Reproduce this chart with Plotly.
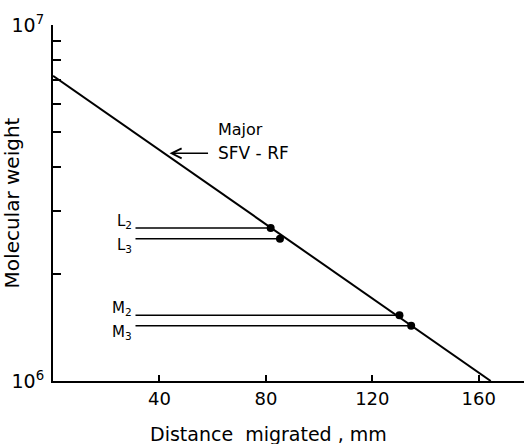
import math
import plotly.graph_objects as go

# Calibration line: log(molecular weight) vs distance migrated
fit_dist = [0.0, 164.5]
fit_mw = [7.2e6, 1.0e6]

# Marked bands
band_names = ["L<sub>2</sub>", "L<sub>3</sub>", "M<sub>2</sub>", "M<sub>3</sub>"]
band_dist = [81.8, 85.3, 130.2, 134.6]
band_mw = [2.69e6, 2.51e6, 1.53e6, 1.43e6]
guide_start = 31.0

# Major SFV-RF position on the line
major_dist = 43.8
major_mw = 4.36e6

x_ticks = [40, 80, 120, 160]
y_ticks = [1e6, 2e6, 3e6, 4e6, 5e6, 6e6, 7e6, 8e6, 9e6, 1e7]
y_ticktext = ["10<sup>6</sup>", "", "", "", "", "", "", "", "", "10<sup>7</sup>"]

FONT = "DejaVu Sans"
INK = "black"

fig = go.Figure()

# guide lines from labels to each band; upper label of each pair sits above
# its line, lower label below, so the pair stays stacked
for i, (name, d, m) in enumerate(zip(band_names, band_dist, band_mw)):
    fig.add_trace(go.Scatter(x=[guide_start, d], y=[m, m], mode="lines",
                             line=dict(color=INK, width=1.5), showlegend=False,
                             hoverinfo="skip"))
    upper = i % 2 == 0
    fig.add_annotation(x=guide_start, y=math.log10(m), text=name, showarrow=False,
                       xanchor="right", yanchor="bottom" if upper else "top",
                       xshift=-1, yshift=-5 if upper else 5,
                       font=dict(family=FONT, size=15, color=INK))

fig.add_trace(go.Scatter(x=fit_dist, y=fit_mw, mode="lines",
                         line=dict(color=INK, width=2), showlegend=False))
fig.add_trace(go.Scatter(x=band_dist, y=band_mw, mode="markers",
                         marker=dict(color=INK, size=8), showlegend=False))

# arrow pointing at the major species
major_y = math.log10(major_mw)
fig.add_annotation(x=major_dist, y=major_y, ax=40, ay=0, text="",
                   showarrow=True, arrowhead=5, arrowsize=1.3, arrowwidth=1.5,
                   arrowcolor=INK)
fig.add_annotation(x=major_dist, y=major_y, text="SFV - RF", showarrow=False,
                   xanchor="left", yanchor="middle", xshift=46,
                   font=dict(family=FONT, size=17, color=INK))
fig.add_annotation(x=major_dist, y=major_y, text="Major", showarrow=False,
                   xanchor="left", yanchor="middle", xshift=46, yshift=24,
                   font=dict(family=FONT, size=16, color=INK))

# x-axis title
fig.add_annotation(xref="paper", yref="paper", x=0.4565, y=-0.149,
                   text="Distance  migrated , mm", showarrow=False,
                   xanchor="center", yanchor="middle",
                   font=dict(family=FONT, size=19, color=INK))

fig.update_layout(
    width=524, height=444,
    margin=dict(l=53, r=0, t=25, b=63),
    paper_bgcolor="white", plot_bgcolor="white",
    font=dict(family=FONT, size=18, color=INK),
    showlegend=False,
    xaxis=dict(range=[0, 177], tickvals=x_ticks, ticks="inside", ticklen=6,
               tickwidth=1.5, tickcolor=INK, showline=True, linewidth=2,
               linecolor=INK, showgrid=False, zeroline=False, automargin=False,
               tickfont=dict(family=FONT, size=18)),
    yaxis=dict(type="log", range=[6, 7], tickvals=y_ticks, ticktext=y_ticktext,
               ticks="inside", ticklen=8, tickwidth=1.5, tickcolor=INK,
               showline=True, linewidth=2, linecolor=INK, showgrid=False,
               zeroline=False, ticklabelstandoff=3, automargin=False,
               tickfont=dict(family=FONT, size=19),
               title=dict(text="Molecular weight",
                          font=dict(family=FONT, size=20))),
)

fig.write_html("out.html")
